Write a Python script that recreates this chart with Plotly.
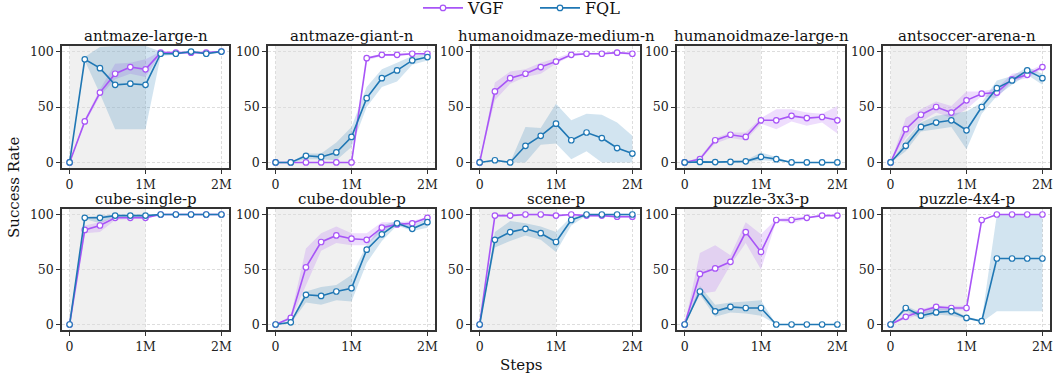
import plotly.graph_objects as go

steps = [0, 200000, 400000, 600000, 800000, 1000000, 1200000, 1400000, 1600000, 1800000, 2000000]
tasks = ["antmaze-large-n", "antmaze-giant-n", "humanoidmaze-medium-n", "humanoidmaze-large-n", "antsoccer-arena-n",
         "cube-single-p", "cube-double-p", "scene-p", "puzzle-3x3-p", "puzzle-4x4-p"]
x_tick_vals = [0, 1000000, 2000000]
x_tick_text = ["0", "1M", "2M"]
y_tick_vals = [0, 50, 100]

vgf_mean = [
    [0, 37, 63, 80, 86, 84, 99, 99, 99, 99, 100],
    [0, 0, 0, 0, 0, 0, 94, 97, 97, 98, 98],
    [0, 64, 76, 80, 86, 91, 97, 98, 98, 99, 98],
    [0, 3, 20, 25, 23, 38, 38, 42, 40, 41, 38],
    [0, 30, 43, 50, 45, 56, 62, 63, 75, 79, 86],
    [0, 86, 90, 97, 97, 97, 100, 100, 100, 100, 100],
    [0, 6, 52, 75, 81, 78, 77, 88, 91, 92, 97],
    [0, 99, 99, 100, 100, 99, 100, 99, 99, 98, 98],
    [0, 46, 51, 57, 84, 66, 95, 95, 97, 99, 99],
    [0, 7, 12, 16, 15, 15, 95, 100, 100, 100, 100],
]
vgf_lo = [
    [0, 35, 60, 75, 80, 77, 98, 98, 98, 98, 99],
    [0, 0, 0, 0, 0, 0, 92, 96, 96, 97, 97],
    [0, 56, 71, 77, 80, 89, 96, 97, 97, 98, 97],
    [0, 2, 17, 22, 20, 35, 30, 37, 33, 36, 26],
    [0, 22, 37, 45, 40, 48, 60, 58, 73, 76, 84],
    [0, 83, 84, 95, 96, 96, 100, 100, 100, 100, 100],
    [0, 4, 35, 67, 74, 72, 72, 85, 89, 90, 95],
    [0, 98, 98, 99, 99, 98, 99, 98, 98, 97, 97],
    [0, 28, 30, 54, 74, 50, 94, 92, 96, 99, 99],
    [0, 5, 9, 13, 13, 13, 94, 100, 100, 100, 100],
]
vgf_hi = [
    [0, 39, 66, 89, 90, 93, 100, 100, 100, 100, 100],
    [0, 0, 0, 0, 0, 0, 95, 98, 98, 99, 99],
    [0, 72, 82, 84, 90, 94, 99, 99, 99, 100, 99],
    [0, 5, 22, 27, 27, 40, 48, 48, 45, 44, 51],
    [0, 40, 48, 55, 51, 64, 64, 67, 80, 82, 88],
    [0, 90, 93, 98, 98, 99, 100, 100, 100, 100, 100],
    [0, 8, 69, 83, 89, 83, 83, 93, 93, 94, 98],
    [0, 100, 100, 100, 100, 100, 100, 100, 100, 99, 99],
    [0, 65, 72, 63, 93, 82, 96, 98, 98, 100, 100],
    [0, 9, 14, 17, 17, 17, 96, 100, 100, 100, 100],
]
fql_mean = [
    [0, 93, 85, 70, 71, 70, 98, 98, 100, 98, 100],
    [0, 0, 6, 5, 9, 23, 58, 76, 83, 92, 95],
    [0, 2, 0, 15, 24, 35, 20, 27, 22, 13, 8],
    [0, 0.5, 0.3, 0.5, 1, 5, 3, 0, 0, 0, 0],
    [0, 15, 32, 36, 38, 29, 50, 67, 74, 83, 76],
    [0, 97, 97, 99, 99, 99, 100, 100, 100, 100, 100],
    [0, 2, 27, 26, 30, 33, 68, 82, 92, 87, 93],
    [0, 77, 84, 87, 83, 75, 95, 100, 100, 100, 100],
    [0, 30, 12, 16, 15, 15, 0, 0, 0, 0, 0],
    [0, 15, 8, 11, 12, 6, 3, 60, 60, 60, 60],
]
fql_lo = [
    [0, 92, 62, 30, 30, 30, 96, 97, 99, 97, 99],
    [0, 0, 3, 3, 2, 14, 50, 68, 73, 88, 92],
    [0, 1, 0, 0, 16, 17, 3, 10, 0, 0, 0],
    [0, 0, 0, 0, 0, 2, 1, 0, 0, 0, 0],
    [0, 10, 28, 30, 32, 12, 44, 60, 70, 79, 70],
    [0, 96, 92, 98, 98, 98, 100, 100, 100, 100, 100],
    [0, 1, 20, 18, 22, 21, 56, 76, 90, 85, 88],
    [0, 70, 76, 81, 77, 66, 90, 99, 99, 99, 99],
    [0, 27, 7, 11, 10, 8, 0, 0, 0, 0, 0],
    [0, 12, 5, 9, 8, 5, 2, 12, 12, 12, 12],
]
fql_hi = [
    [0, 95, 104, 105, 105, 105, 100, 99, 100, 99, 100],
    [0, 0, 8, 8, 18, 32, 68, 84, 90, 96, 98],
    [0, 3, 0, 32, 31, 53, 38, 44, 43, 36, 24],
    [0, 1, 1, 1, 2, 9, 5, 0, 0, 0, 0],
    [0, 20, 36, 42, 44, 46, 54, 74, 78, 86, 80],
    [0, 98, 99, 100, 100, 100, 100, 100, 100, 100, 100],
    [0, 3, 30, 34, 36, 45, 72, 90, 94, 90, 96],
    [0, 84, 94, 92, 89, 84, 98, 100, 100, 100, 100],
    [0, 35, 18, 20, 21, 22, 0, 0, 0, 0, 0],
    [0, 17, 11, 15, 14, 7, 4, 100, 100, 100, 100],
]

W, H = 1055, 375
FONT = "DejaVu Serif"
VGF_C = "#a855f7"
FQL_C = "#1f77b4"
col_px = [(62, 229), (268, 435), (472, 640), (677, 845), (883, 1050)]
row_px = [(46, 168), (209, 330)]

fig = go.Figure()

for i, task in enumerate(tasks):
    r, c = divmod(i, 5)
    n = i + 1
    xa = "x" if n == 1 else f"x{n}"
    ya = "y" if n == 1 else f"y{n}"
    x0, x1 = col_px[c]
    t0, t1 = row_px[r]
    xdom = [x0 / W, x1 / W]
    ydom = [1 - t1 / H, 1 - t0 / H]
    axis_common = dict(
        showline=True, mirror=True, linecolor="#333333", linewidth=1.5,
        ticks="outside", ticklen=4, tickwidth=1.2, tickcolor="#333333",
        showgrid=True, gridcolor="#dddddd", griddash="3px,2px", gridwidth=0.8,
        zeroline=False, tickfont=dict(family=FONT, size=12.5, color="#222222"),
    )
    fig.layout[f"xaxis{'' if n == 1 else n}"] = dict(
        domain=xdom, anchor=ya, range=[-100000, 2100000],
        tickvals=x_tick_vals, ticktext=x_tick_text, **axis_common)
    fig.layout[f"yaxis{'' if n == 1 else n}"] = dict(
        domain=ydom, anchor=xa, range=[-5, 105],
        tickvals=y_tick_vals, **axis_common)

    fig.add_shape(type="rect", xref=xa, yref=f"{ya} domain", x0=0, x1=1000000, y0=0, y1=1,
                  fillcolor="#f0f0f0", line_width=0, layer="below")

    for name, mean, lo, hi, color, fillc in [
        ("VGF", vgf_mean[i], vgf_lo[i], vgf_hi[i], VGF_C, "rgba(168,85,247,0.2)"),
        ("FQL", fql_mean[i], fql_lo[i], fql_hi[i], FQL_C, "rgba(31,119,180,0.2)"),
    ]:
        fig.add_trace(go.Scatter(
            x=steps + steps[::-1], y=hi + lo[::-1], fill="toself", fillcolor=fillc,
            line=dict(width=0), mode="lines", hoverinfo="skip", showlegend=False,
            xaxis=xa, yaxis=ya))
    for name, mean, color in [("VGF", vgf_mean[i], VGF_C), ("FQL", fql_mean[i], FQL_C)]:
        fig.add_trace(go.Scatter(
            x=steps, y=mean, mode="lines+markers", name=name,
            line=dict(color=color, width=1.6),
            marker=dict(symbol="circle", size=5.5, color="white", line=dict(color=color, width=1.2)),
            showlegend=(i == 0), legendgroup=name, xaxis=xa, yaxis=ya))

    fig.add_annotation(text=task, x=(xdom[0] + xdom[1]) / 2, y=ydom[1], xref="paper", yref="paper",
                       xanchor="center", yanchor="bottom", yshift=-1, showarrow=False,
                       font=dict(family=FONT, size=15, color="#111111"))

fig.add_annotation(text="Success Rate", x=14 / W, y=1 - 188 / H, xref="paper", yref="paper",
                   textangle=-90, showarrow=False, xanchor="center", yanchor="middle",
                   font=dict(family=FONT, size=15, color="#111111"))
fig.add_annotation(text="Steps", x=521 / W, y=1 - 365 / H, xref="paper", yref="paper",
                   showarrow=False, xanchor="center", yanchor="middle",
                   font=dict(family=FONT, size=15, color="#111111"))

fig.update_layout(
    width=W, height=H, autosize=False,
    margin=dict(l=0, r=0, t=0, b=0, pad=0, autoexpand=False),
    paper_bgcolor="white", plot_bgcolor="white",
    showlegend=True,
    legend=dict(orientation="h", x=418 / W, xanchor="left", y=1 - 8 / H, yanchor="middle",
                font=dict(family=FONT, size=16, color="#111111"),
                bgcolor="rgba(0,0,0,0)", itemwidth=40, tracegroupgap=0,
                entrywidth=62, entrywidthmode="pixels"),
)

fig.write_html("out.html", config={"displayModeBar": False},
               post_script="document.body.style.margin='0';document.body.style.padding='0';document.body.style.overflow='hidden';")
